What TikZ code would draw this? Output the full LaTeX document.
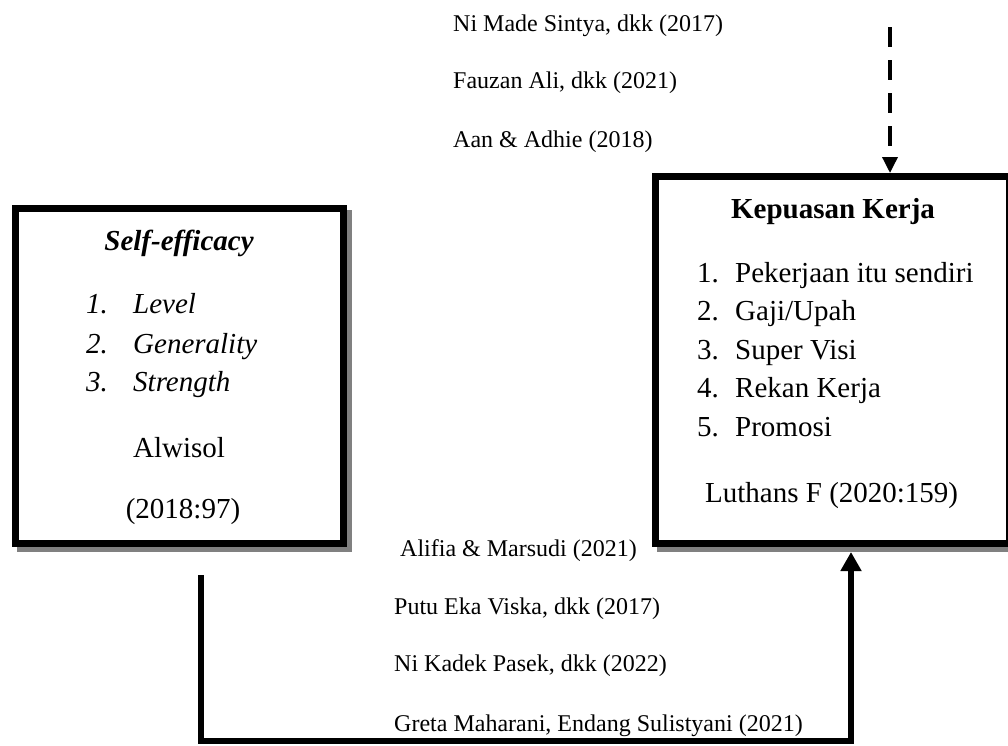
\documentclass[tikz,border=0pt]{standalone}
\usepackage{fontspec}
\setmainfont{Liberation Serif}
\usetikzlibrary{arrows.meta}
\begin{document}
\begin{tikzpicture}[x=1pt,y=-1pt,
  big/.style={font=\fontsize{29}{35}\selectfont, inner sep=0pt, anchor=base west},
  bigc/.style={big, anchor=base},
  small/.style={font=\fontsize{24}{29}\selectfont, inner sep=0pt, anchor=base west},
  framebox/.style={draw=black, line width=7pt, fill=white, inner sep=0pt},
  shadowbox/.style={fill=black!50, inner sep=0pt},
  conn/.style={line width=6pt, draw=black},
  dconn/.style={line width=3.5pt, draw=black, dash pattern=on 20pt off 13pt}]
\useasboundingbox (0,0) rectangle (1008,745);
\fill[white] (0,0) rectangle (1008,745);
\clip (0,0) rectangle (1008,745);

% shadows
\node[shadowbox, minimum width=335pt, minimum height=342pt] (sesh) at (184.5,381) {};
\node[shadowbox, minimum width=361pt, minimum height=374pt] (kksh) at (837.5,365) {};
% boxes
\node[framebox, minimum width=328pt, minimum height=335pt] (se) at (179.5,376) {};
\node[framebox, minimum width=354pt, minimum height=367pt] (kk) at (832.5,360) {};

% left box text
\node[bigc, font=\fontsize{29}{35}\selectfont\bfseries\itshape] (setitle) at (179,250) {Self-efficacy};
\node[big, font=\fontsize{29}{35}\selectfont\itshape] (sen1) at (86,313) {1.};
\node[big, font=\fontsize{29}{35}\selectfont\itshape] (set1) at (133,313) {Level};
\node[big, font=\fontsize{29}{35}\selectfont\itshape] (sen2) at (86,353) {2.};
\node[big, font=\fontsize{29}{35}\selectfont\itshape] (set2) at (133,353) {Generality};
\node[big, font=\fontsize{29}{35}\selectfont\itshape] (sen3) at (86,391) {3.};
\node[big, font=\fontsize{29}{35}\selectfont\itshape] (set3) at (133,391) {Strength};
\node[bigc] (sesrc1) at (179,457) {Alwisol};
\node[bigc] (sesrc2) at (183,518) {(2018:97)};

% right box text
\node[bigc, font=\fontsize{29}{35}\selectfont\bfseries] (kktitle) at (833,218) {Kepuasan Kerja};
\node[big] (kkn1) at (697,282) {1.};
\node[big] (kkt1) at (735,282) {Pekerjaan itu sendiri};
\node[big] (kkn2) at (697,320) {2.};
\node[big] (kkt2) at (735,320) {Gaji/Upah};
\node[big] (kkn3) at (697,359) {3.};
\node[big] (kkt3) at (735,359) {Super Visi};
\node[big] (kkn4) at (697,397) {4.};
\node[big] (kkt4) at (735,397) {Rekan Kerja};
\node[big] (kkn5) at (697,436) {5.};
\node[big] (kkt5) at (735,436) {Promosi};
\node[big] (kksrc) at (705,502) {Luthans F (2020:159)};

% top references
\node[small] (r1) at (453,31) {Ni Made Sintya, dkk (2017)};
\node[small] (r2) at (453,88) {Fauzan Ali, dkk (2021)};
\node[small] (r3) at (453,147) {Aan \& Adhie (2018)};

% bottom references
\node[small] (b1) at (400,556) {Alifia \& Marsudi (2021)};
\node[small] (b2) at (394,614) {Putu Eka Viska, dkk (2017)};
\node[small] (b3) at (394,671) {Ni Kadek Pasek, dkk (2022)};
\node[small] (b4) at (394,731) {Greta Maharani, Endang Sulistyani (2021)};

% connectors
\coordinate (dtop) at (890,27);
\draw[dconn, -{Triangle[width=15pt,length=16pt]}] (dtop) -- (dtop |- kk.north);

\coordinate (lstart) at (201,575);
\coordinate (lbot) at (201,741);
\coordinate (rbot) at (851,741);
\draw[conn, -{Triangle[width=20pt,length=19pt]}, shorten >=5pt] (lstart) -- (lbot) -- (rbot) -- (rbot |- kk.south);
\end{tikzpicture}
\end{document}
